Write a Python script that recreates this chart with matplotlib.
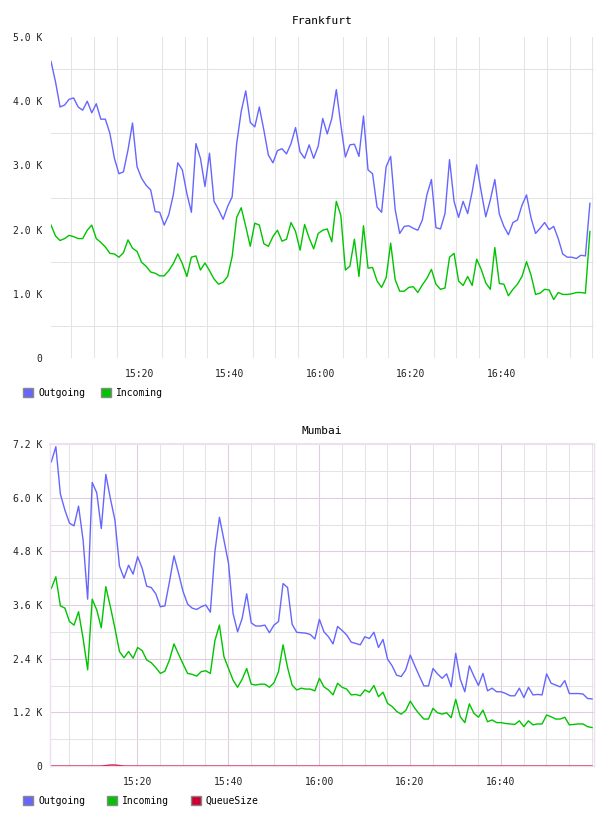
import numpy as np
import matplotlib
matplotlib.use("Agg")
from matplotlib import pyplot as plt
from matplotlib.patches import Patch
from matplotlib.ticker import FixedLocator, FuncFormatter

# values in thousands, one sample per minute
frankfurt_out = [
    4.62, 4.30, 3.91, 3.94, 4.03, 4.05, 3.91, 3.86, 4.00, 3.82,
    3.96, 3.72, 3.72, 3.50, 3.11, 2.87, 2.90, 3.24, 3.66, 2.98,
    2.80, 2.69, 2.62, 2.28, 2.27, 2.07, 2.23, 2.54, 3.04, 2.93,
    2.56, 2.27, 3.34, 3.11, 2.67, 3.19, 2.44, 2.31, 2.16, 2.36,
    2.51, 3.34, 3.84, 4.16, 3.67, 3.60, 3.91, 3.55, 3.16, 3.04,
    3.23, 3.26, 3.18, 3.34, 3.59, 3.21, 3.11, 3.32, 3.11, 3.30,
    3.73, 3.49, 3.73, 4.18, 3.63, 3.13, 3.32, 3.33, 3.14, 3.77,
    2.93, 2.87, 2.35, 2.27, 2.98, 3.14, 2.31, 1.94, 2.05, 2.06,
    2.02, 1.99, 2.15, 2.54, 2.78, 2.03, 2.01, 2.25, 3.09, 2.44,
    2.19, 2.44, 2.25, 2.59, 3.01, 2.59, 2.20, 2.46, 2.78, 2.24,
    2.05, 1.92, 2.11, 2.15, 2.38, 2.54, 2.18, 1.94, 2.02, 2.11,
    2.00, 2.05, 1.86, 1.62, 1.57, 1.57, 1.55, 1.60, 1.59, 2.41,
]
frankfurt_in = [
    2.07, 1.90, 1.83, 1.86, 1.91, 1.89, 1.86, 1.86, 1.99, 2.07,
    1.86, 1.80, 1.73, 1.63, 1.62, 1.57, 1.64, 1.84, 1.71, 1.66,
    1.49, 1.43, 1.34, 1.32, 1.28, 1.28, 1.36, 1.47, 1.62, 1.47,
    1.27, 1.57, 1.59, 1.37, 1.48, 1.36, 1.23, 1.15, 1.18, 1.27,
    1.58, 2.19, 2.34, 2.05, 1.74, 2.10, 2.07, 1.78, 1.74, 1.89,
    1.99, 1.82, 1.85, 2.11, 1.97, 1.68, 2.08, 1.87, 1.70, 1.94,
    1.99, 2.01, 1.81, 2.44, 2.22, 1.37, 1.43, 1.85, 1.27, 2.06,
    1.40, 1.41, 1.20, 1.10, 1.25, 1.79, 1.22, 1.04, 1.04, 1.10,
    1.11, 1.02, 1.14, 1.24, 1.38, 1.15, 1.07, 1.09, 1.57, 1.63,
    1.20, 1.13, 1.27, 1.13, 1.54, 1.38, 1.17, 1.07, 1.72, 1.16,
    1.15, 0.97, 1.07, 1.15, 1.27, 1.50, 1.29, 0.99, 1.01, 1.07,
    1.06, 0.91, 1.02, 0.99, 0.99, 1.00, 1.02, 1.02, 1.01, 1.97,
]
mumbai_out = [
    6.80, 7.14, 6.08, 5.72, 5.43, 5.37, 5.81, 5.05, 3.73, 6.34,
    6.11, 5.31, 6.52, 5.98, 5.50, 4.47, 4.20, 4.49, 4.29, 4.68,
    4.42, 4.02, 3.99, 3.85, 3.56, 3.58, 4.12, 4.70, 4.31, 3.90,
    3.62, 3.53, 3.50, 3.56, 3.60, 3.44, 4.79, 5.56, 5.05, 4.53,
    3.41, 3.00, 3.30, 3.85, 3.20, 3.13, 3.13, 3.15, 2.98, 3.15,
    3.23, 4.08, 3.99, 3.17, 2.99, 2.98, 2.97, 2.94, 2.84, 3.28,
    3.00, 2.89, 2.73, 3.12, 3.03, 2.93, 2.77, 2.74, 2.71, 2.89,
    2.85, 2.99, 2.65, 2.83, 2.39, 2.24, 2.03, 2.00, 2.15, 2.48,
    2.24, 2.01, 1.79, 1.79, 2.18, 2.06, 1.96, 2.06, 1.77, 2.52,
    1.94, 1.66, 2.24, 2.01, 1.80, 2.07, 1.68, 1.74, 1.66, 1.66,
    1.62, 1.57, 1.57, 1.74, 1.53, 1.76, 1.59, 1.60, 1.59, 2.06,
    1.85, 1.81, 1.77, 1.91, 1.62, 1.62, 1.62, 1.61, 1.51, 1.50,
]
mumbai_in = [
    3.97, 4.23, 3.58, 3.53, 3.23, 3.15, 3.45, 2.85, 2.15, 3.73,
    3.49, 3.09, 4.01, 3.56, 3.08, 2.56, 2.42, 2.56, 2.41, 2.65,
    2.58, 2.37, 2.31, 2.20, 2.07, 2.12, 2.37, 2.73, 2.50, 2.28,
    2.07, 2.05, 2.01, 2.11, 2.13, 2.07, 2.80, 3.15, 2.44, 2.18,
    1.92, 1.76, 1.94, 2.18, 1.83, 1.81, 1.83, 1.83, 1.76, 1.86,
    2.11, 2.71, 2.20, 1.81, 1.70, 1.74, 1.72, 1.72, 1.68, 1.96,
    1.77, 1.70, 1.59, 1.85, 1.76, 1.72, 1.59, 1.60, 1.57, 1.70,
    1.65, 1.80, 1.55, 1.65, 1.40, 1.33, 1.22, 1.16, 1.24, 1.45,
    1.29, 1.16, 1.05, 1.05, 1.29, 1.19, 1.16, 1.19, 1.08, 1.49,
    1.10, 0.97, 1.39, 1.18, 1.09, 1.25, 0.99, 1.03, 0.97, 0.97,
    0.95, 0.94, 0.93, 1.01, 0.88, 1.01, 0.92, 0.94, 0.94, 1.14,
    1.10, 1.05, 1.05, 1.09, 0.92, 0.93, 0.94, 0.94, 0.88, 0.86,
]
mumbai_queue = [0.0] * 12 + [0.01, 0.02, 0.02, 0.01] + [0.0] * 104

# minutes after 15:00 of the first sample
frankfurt_start = 0.5
mumbai_start = 1.07

time_ticks = [20, 40, 60, 80, 100]
time_labels = ["15:20", "15:40", "16:00", "16:20", "16:40"]

BLUE = "#6666ff"
GREEN = "#00c400"
RED = "#cc0033"
GREY_GRID = "#e4e4e4"
PINK_GRID = "#e0cbe0"
FONT = "DejaVu Sans Mono"

plt.rcParams["font.family"] = FONT

W, H = 608, 816
fig = plt.figure(figsize=(W / 100, H / 100), dpi=100)


def px_axes(left, top, right, bottom):
    return fig.add_axes([left / W, 1 - bottom / H, (right - left) / W, (bottom - top) / H])


def k_fmt(v, pos):
    return "0" if abs(v) < 1e-9 else "{:.1f} K".format(v)


def style_common(ax, xlim, ymax, ystep):
    ax.set_xlim(*xlim)
    ax.set_ylim(0, ymax)
    ax.xaxis.set_major_locator(FixedLocator(time_ticks))
    ax.xaxis.set_major_formatter(FuncFormatter(lambda v, p: time_labels[time_ticks.index(int(round(v)))]))
    ax.xaxis.set_minor_locator(FixedLocator(np.arange(5, 125, 5)))
    ax.yaxis.set_major_locator(FixedLocator(np.arange(0, ymax + 0.001, ystep)))
    ax.yaxis.set_major_formatter(FuncFormatter(k_fmt))
    ax.yaxis.set_minor_locator(FixedLocator(np.arange(ystep / 2, ymax, ystep)))
    ax.tick_params(which="both", length=0, labelsize=7, colors="#222222")
    ax.tick_params(axis="x", pad=8)
    ax.tick_params(axis="y", pad=6)
    ax.set_axisbelow(True)


# --- Frankfurt ---
ax1 = px_axes(51, 37, 594, 358)
t1 = frankfurt_start + np.arange(len(frankfurt_out))
style_common(ax1, (0.5, 120.4), 5.0, 1.0)
ax1.grid(which="minor", color=GREY_GRID, linewidth=0.75)
for s in ax1.spines.values():
    s.set_visible(False)
ax1.plot(t1, frankfurt_out, color=BLUE, linewidth=1)
ax1.plot(t1, frankfurt_in, color=GREEN, linewidth=1)
ax1.set_title("Frankfurt", fontsize=8, pad=9)

fig.legend(handles=[Patch(facecolor=BLUE, edgecolor="#888888", label="Outgoing"),
                    Patch(facecolor=GREEN, edgecolor="#888888", label="Incoming")],
           loc="upper left", bbox_to_anchor=(23 / W, 1 - 388 / H), ncol=2, frameon=False,
           fontsize=7, handlelength=1.05, handleheight=1.05, handletextpad=0.5,
           columnspacing=1.6, borderpad=0, borderaxespad=0)

# --- Mumbai ---
ax2 = px_axes(50.3, 444, 594, 766)
t2 = mumbai_start + np.arange(len(mumbai_out))
style_common(ax2, (0.85, 120.5), 7.2, 1.2)
ax2.grid(which="minor", color=GREY_GRID, linewidth=0.75)
ax2.grid(which="major", color=PINK_GRID, linewidth=0.75)
for name, s in ax2.spines.items():
    s.set_color("#efdfef")
    s.set_linewidth(1.5 if name == "top" else 1)
ax2.plot(t2, mumbai_out, color=BLUE, linewidth=1)
ax2.plot(t2, mumbai_in, color=GREEN, linewidth=1)
ax2.plot(t2, mumbai_queue, color=RED, linewidth=1, clip_on=False)
ax2.set_title("Mumbai", fontsize=8, pad=7)

fig.legend(handles=[Patch(facecolor=BLUE, edgecolor="#888888", label="Outgoing"),
                    Patch(facecolor=GREEN, edgecolor="#888888", label="Incoming"),
                    Patch(facecolor=RED, edgecolor="#888888", label="QueueSize")],
           loc="upper left", bbox_to_anchor=(23 / W, 1 - 796 / H), ncol=3, frameon=False,
           fontsize=7, handlelength=1.05, handleheight=1.05, handletextpad=0.5,
           columnspacing=2.25, borderpad=0, borderaxespad=0)

fig.savefig("out.png", dpi=100)
